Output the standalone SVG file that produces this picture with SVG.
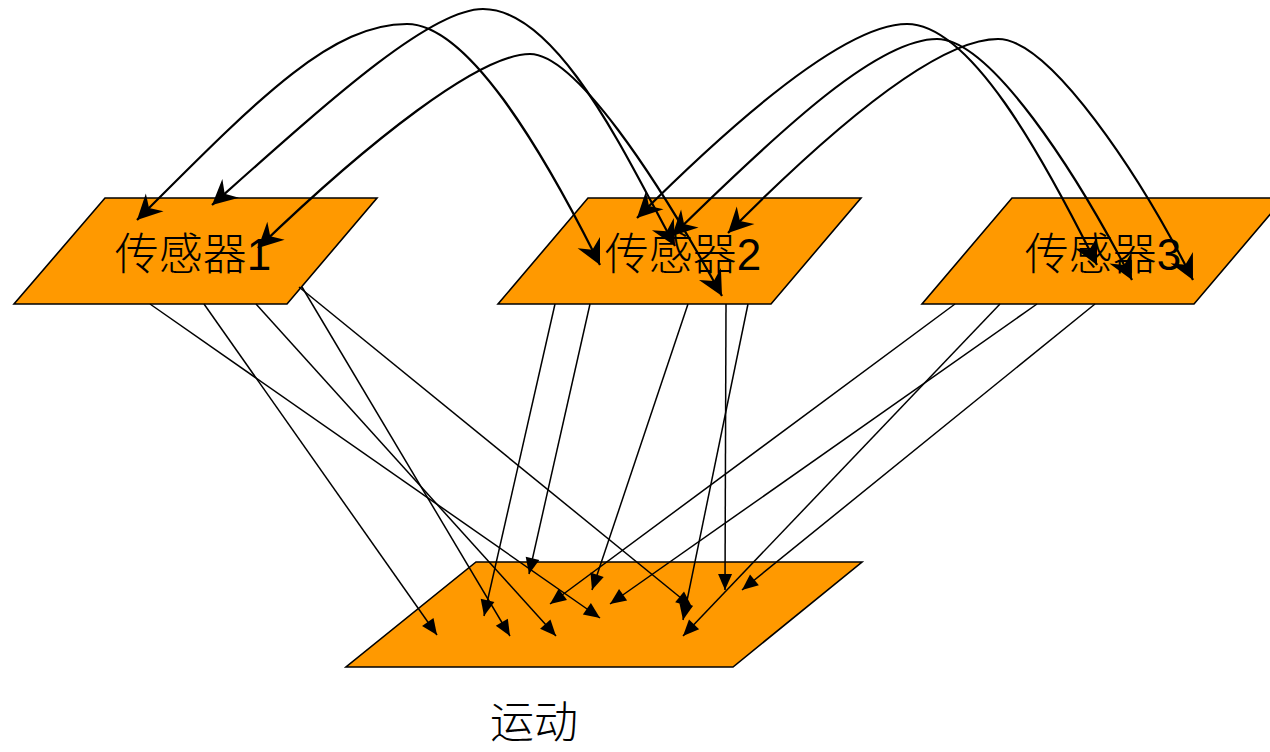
<svg xmlns="http://www.w3.org/2000/svg" width="1270" height="752" viewBox="0 0 1270 752">
<defs>
<style>
.node{fill:#FF9900;stroke:#000;stroke-width:1.6;stroke-linejoin:miter}
.lbl{font-family:"Liberation Sans","Noto Sans CJK SC",sans-serif;font-size:44px;font-weight:300;fill:#000;text-anchor:middle}
.arc{fill:none;stroke:#000;stroke-width:2.2;marker-start:url(#stealth);marker-end:url(#stealth)}
.ln{fill:none;stroke:#000;stroke-width:1.5;marker-end:url(#tri)}
</style>
<marker id="stealth" viewBox="-27 -14 29 28" refX="0" refY="0" markerWidth="29" markerHeight="28" markerUnits="userSpaceOnUse" orient="auto-start-reverse">
<path d="M0,0 L-25,-12.5 L-17,0 L-25,12.5 Z" fill="#000"/>
</marker>
<marker id="tri" viewBox="-18 -8 20 16" refX="0" refY="0" markerWidth="20" markerHeight="16" markerUnits="userSpaceOnUse" orient="auto">
<path d="M0,0 L-16,-7 L-16,7 Z" fill="#000"/>
</marker>
</defs>
<rect width="1270" height="752" fill="#fff"/>
<g id="sensor1">
<polygon class="node" points="105,198 377,198 287,304 14,304"/>
<text class="lbl" x="193" y="270">传感器1</text>
</g>
<g id="sensor2">
<polygon class="node" points="588,198 861,198 771,304 498,304"/>
<text class="lbl" x="683" y="270">传感器2</text>
</g>
<g id="sensor3">
<polygon class="node" points="1012,198 1284,198 1194,304 922,304"/>
<text class="lbl" x="1103" y="270">传感器3</text>
</g>
<g id="motion">
<polygon class="node" points="476,562 862,562 733,667 346,667"/>
<text class="lbl" x="534" y="738">运动</text>
</g>
<g id="connectors">
<path class="arc" d="M137,220 C257,100 330,24 407,24 C467,24 540,145 600,265"/>
<path class="arc" d="M212,205 C330,100 430,9 483,9 C560,9 630,165 675,246"/>
<path class="arc" d="M258,248 C370,140 480,54 530,54 C575,54 656,176 722,296"/>
<path class="arc" d="M637,218 C750,105 850,24 907,24 C970,24 1042,155 1097,265"/>
<path class="arc" d="M672,236 C790,120 880,39 937,39 C990,39 1075,170 1132,280"/>
<path class="arc" d="M728,233 C840,120 940,39 998,39 C1050,39 1140,175 1193,280"/>
<path class="ln" d="M150,304 L600,618"/>
<path class="ln" d="M204,304 L437,635"/>
<path class="ln" d="M256,304 L556,636"/>
<path class="ln" d="M302,287 L510,636"/>
<path class="ln" d="M299,287 L692,607"/>
<path class="ln" d="M555,304 L484,616"/>
<path class="ln" d="M590,304 L529,574"/>
<path class="ln" d="M688,304 L592,590"/>
<path class="ln" d="M726,304 L725,590"/>
<path class="ln" d="M748,304 L683,620"/>
<path class="ln" d="M955,304 L550,604"/>
<path class="ln" d="M1000,304 L683,636"/>
<path class="ln" d="M1037,304 L610,604"/>
<path class="ln" d="M1095,304 L742,590"/>
</g>
</svg>
